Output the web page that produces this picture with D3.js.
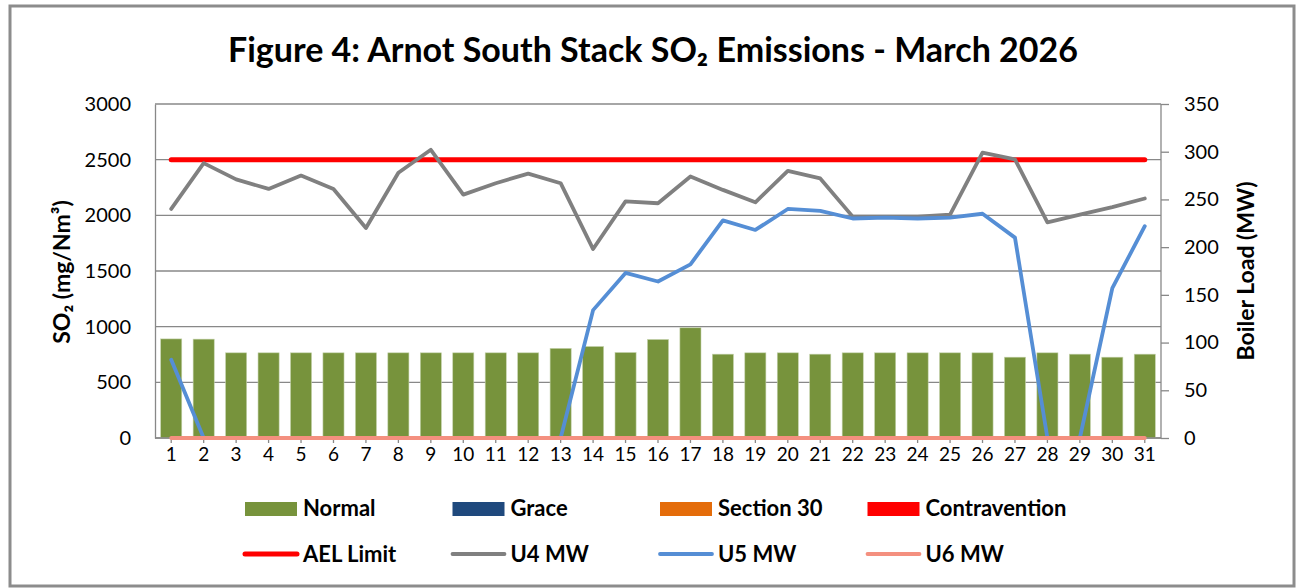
<!DOCTYPE html>
<html>
<head>
<meta charset="utf-8">
<script src="https://cdn.jsdelivr.net/npm/d3@7"></script>
<style>
  body { margin: 0; background: #fff; }
  text { font-family: Lato, "Open Sans", sans-serif; fill: #000; }
</style>
</head>
<body>
<div id="graph-container"></div>
<script>
// Chart data
const days = d3.range(1, 32).map(String);
const normal = [890, 888, 765, 765, 765, 765, 765, 765, 765, 765, 765, 765, 805, 822, 768, 885,
                990, 753, 765, 765, 753, 765, 765, 765, 765, 765, 726, 765, 753, 726, 753];
const grace = days.map(() => 0);
const section30 = days.map(() => 0);
const contravention = days.map(() => 0);
const aelLimit = days.map(() => 2500);
const u4 = [240, 288, 271, 261, 275, 261, 220, 278, 302, 255, 267, 277, 267, 198, 248, 246,
            274, 260, 247, 280, 272, 232, 232, 232, 234, 299, 292, 226, 234, 242, 251];
const u5 = [82, 0, 0, 0, 0, 0, 0, 0, 0, 0, 0, 0, 0, 134, 173, 164,
            182, 228, 218, 240, 238, 230, 231, 230, 231, 235, 210, 0, 0, 157, 222];
const u6 = days.map(() => 0);
const leftTicks = [0, 500, 1000, 1500, 2000, 2500, 3000];
const rightTicks = [0, 50, 100, 150, 200, 250, 300, 350];

// Chart dimensions and margins
const W = 1302, H = 588;
const margin = { top: 104, right: 141, bottom: 150, left: 155 };
const width = W - margin.left - margin.right;
const height = H - margin.top - margin.bottom;

// Scales
const x = d3.scaleBand().domain(days).range([0, width]).paddingInner(0.35).paddingOuter(0.175);
const xc = d => x(d) + x.bandwidth() / 2;
const y = d3.scaleLinear().domain([0, 3000]).range([height, 0]);
const y2 = d3.scaleLinear().domain([0, 350]).range([height, 0]);

const svgRoot = d3.select("#graph-container")
    .append("svg")
        .attr("width", W)
        .attr("height", H);

// Outer frame
svgRoot.append("rect")
    .attr("x", 10).attr("y", 6)
    .attr("width", 1284).attr("height", 580)
    .attr("fill", "#fff")
    .attr("stroke", "#8c8c8c")
    .attr("stroke-width", 3);

// Title
svgRoot.append("text")
    .attr("x", 653).attr("y", 62)
    .attr("text-anchor", "middle")
    .attr("font-size", 34)
    .attr("font-weight", "bold")
    .text("Figure 4: Arnot South Stack SO₂ Emissions - March 2026");

const svg = svgRoot.append("g")
    .attr("transform", `translate(${margin.left},${margin.top})`);

// Gridlines
svg.append("g")
    .selectAll("line")
    .data(leftTicks)
    .join("line")
        .attr("x1", 0).attr("x2", width)
        .attr("y1", d => y(d)).attr("y2", d => y(d))
        .attr("stroke", "#888")
        .attr("stroke-width", 1.3);

// Left axis
const yAxis = svg.append("g")
    .call(d3.axisLeft(y).tickValues(leftTicks).tickFormat(d3.format("d")).tickSize(0).tickPadding(24));
yAxis.select(".domain").attr("stroke", "#888").attr("stroke-width", 1.3);
yAxis.selectAll("text").attr("font-size", 20).attr("font-family", "Lato, sans-serif");

// Right axis
const y2Axis = svg.append("g")
    .attr("transform", `translate(${width},0)`)
    .call(d3.axisRight(y2).tickValues(rightTicks).tickFormat(d3.format("d")).tickSize(8).tickPadding(15));
y2Axis.select(".domain").attr("stroke", "#888").attr("stroke-width", 1.3).attr("d", `M0,0V${height}`);
y2Axis.selectAll("line").attr("stroke", "#888").attr("stroke-width", 1.3);
y2Axis.selectAll("text").attr("font-size", 20).attr("font-family", "Lato, sans-serif");

// Stacked bars
const stackData = days.map((d, i) => ({
    day: d, normal: normal[i], grace: grace[i], section30: section30[i], contravention: contravention[i]
}));
const barKeys = ["normal", "grace", "section30", "contravention"];
const barColors = { normal: "#77933C", grace: "#1F497D", section30: "#E46C0A", contravention: "#FF0000" };
const stacked = d3.stack().keys(barKeys)(stackData);

svg.append("g")
    .selectAll("g")
    .data(stacked)
    .join("g")
        .attr("fill", s => barColors[s.key])
    .selectAll("rect")
    .data(s => s)
    .join("rect")
        .attr("x", d => x(d.data.day))
        .attr("y", d => y(d[1]))
        .attr("width", x.bandwidth())
        .attr("height", d => y(d[0]) - y(d[1]))
        .attr("stroke", "#c5d3ad")
        .attr("stroke-width", 0.6);

// X axis
const xAxis = svg.append("g")
    .attr("transform", `translate(0,${height})`)
    .call(d3.axisBottom(x).tickSize(5).tickPadding(5));
xAxis.select(".domain").attr("stroke", "#888").attr("stroke-width", 1.3).attr("d", `M0,0H${width}`);
xAxis.selectAll("line").attr("stroke", "#888").attr("stroke-width", 1.3);
xAxis.selectAll("text").attr("font-size", 19).attr("font-family", "Lato, sans-serif");

// Lines
const lineLeft = d3.line().x((d, i) => xc(days[i])).y(d => y(d));
const lineRight = d3.line().x((d, i) => xc(days[i])).y(d => y2(d));
const lines = [
    { name: "AEL Limit", values: aelLimit, gen: lineLeft, color: "#FF0000", w: 5 },
    { name: "U4 MW", values: u4, gen: lineRight, color: "#808080", w: 3.8 },
    { name: "U5 MW", values: u5, gen: lineRight, color: "#558ED5", w: 3.8 },
    { name: "U6 MW", values: u6, gen: lineRight, color: "#F4907F", w: 3.8 }
];
svg.append("g")
    .selectAll("path")
    .data(lines)
    .join("path")
        .attr("fill", "none")
        .attr("stroke", d => d.color)
        .attr("stroke-width", d => d.w)
        .attr("stroke-linecap", "round")
        .attr("stroke-linejoin", "round")
        .attr("d", d => d.gen(d.values));

// Axis titles
svgRoot.append("text")
    .attr("transform", "translate(70,272) rotate(-90)")
    .attr("text-anchor", "middle")
    .attr("font-size", 23)
    .attr("font-weight", "bold")
    .text("SO₂  (mg/Nm³)");

svgRoot.append("text")
    .attr("transform", "translate(1254,271) rotate(-90)")
    .attr("text-anchor", "middle")
    .attr("font-size", 23)
    .attr("font-weight", "bold")
    .text("Boiler Load (MW)");

// Legend
const legendBars = [
    { name: "Normal", color: barColors.normal },
    { name: "Grace", color: barColors.grace },
    { name: "Section 30", color: barColors.section30 },
    { name: "Contravention", color: barColors.contravention }
];
const colX = [245, 452.5, 660, 867.5];
const legend = svgRoot.append("g");
legendBars.forEach((d, i) => {
    legend.append("rect")
        .attr("x", colX[i]).attr("y", 502)
        .attr("width", 52).attr("height", 14)
        .attr("fill", d.color);
    legend.append("text")
        .attr("x", colX[i] + 58).attr("y", 516)
        .attr("font-size", 22).attr("font-weight", "bold")
        .text(d.name);
});
lines.forEach((d, i) => {
    legend.append("line")
        .attr("x1", colX[i]).attr("x2", colX[i] + 52)
        .attr("y1", 554).attr("y2", 554)
        .attr("stroke", d.color)
        .attr("stroke-width", d.w)
        .attr("stroke-linecap", "round");
    legend.append("text")
        .attr("x", colX[i] + 58).attr("y", 562)
        .attr("font-size", 22).attr("font-weight", "bold")
        .text(d.name);
});
</script>
</body>
</html>
